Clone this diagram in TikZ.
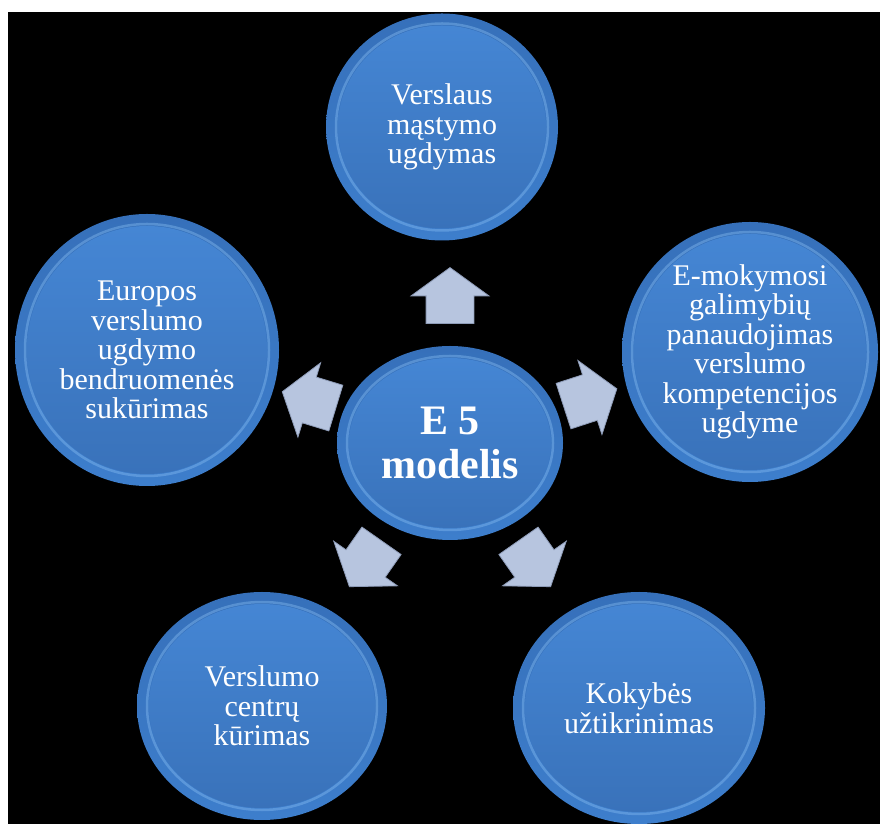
\documentclass[tikz,border=0pt]{standalone}
\usepackage{fontspec}
\setmainfont{Liberation Serif}
\usetikzlibrary{shapes.geometric,shapes.arrows,calc}
\definecolor{ringtop}{HTML}{3670BA}
\definecolor{ringbot}{HTML}{3D7ECC}
\definecolor{ringhi}{HTML}{8AC0F4}
\definecolor{bodytop}{HTML}{4586D4}
\definecolor{bodybot}{HTML}{3972BA}
\definecolor{arrowc}{HTML}{B7C5DF}
\definecolor{arrowedge}{HTML}{8E9CB8}
\tikzset{
  bubble/.style={ellipse, inner sep=0pt, align=center, text=white,
    top color=ringtop, bottom color=ringbot,
    font=\fontsize{30}{29.5}\selectfont,
    path picture={
      \draw[ringhi, line width=2.5pt, opacity=.4] let \p1=($(path picture bounding box.north east)-(path picture bounding box.center)$) in
        (path picture bounding box.center) ellipse [x radius=\x1-10pt, y radius=\y1-10pt];
      \shade[top color=bodytop, bottom color=bodybot] let \p1=($(path picture bounding box.north east)-(path picture bounding box.center)$) in
        (path picture bounding box.center) ellipse [x radius=\x1-12pt, y radius=\y1-12pt];
    }},
  pointer/.style={single arrow, single arrow head extend=15pt, single arrow tip angle=108,
    minimum height=56pt, inner xsep=0pt, inner ysep=23.5pt,
    fill=arrowc, draw=arrowedge, line width=.8pt},
}
\begin{document}
\begin{tikzpicture}[x=1pt,y=1pt]
      \useasboundingbox (0,0) rectangle (880,824);
      \fill[white] (0,0) rectangle (880,824);
      \fill[black] (8,0) rectangle (880,812);
      %centras
      \node[bubble, minimum width=226pt, minimum height=194pt, font=\fontsize{42}{44}\selectfont\bfseries] (ctr) at (450,381) {E 5\\modelis};
      %aplink
      \node[bubble, minimum width=232pt, minimum height=227pt] (verslaus) at (442,697) {Verslaus\\mąstymo\\ugdymas};
      \node[bubble, minimum width=256pt, minimum height=260pt] (emokym) at (750,472) {E-mokymosi\\galimybių\\panaudojimas\\verslumo\\kompetencijos\\ugdyme};
      \node[bubble, minimum width=252pt, minimum height=232pt] (kokybe) at (639,116) {Kokybės\\užtikrinimas};
      \node[bubble, minimum width=250pt, minimum height=228pt] (centru) at (262,118) {Verslumo\\centrų\\kūrimas};
      \node[bubble, minimum width=264pt, minimum height=272pt] (europos) at (147,474) {Europos\\verslumo\\ugdymo\\bendruomenės\\sukūrimas};
      %rodykles
      \foreach \a/\n in {90/up,18/ea,-55/se,-125/sw,163/we}
        \node[pointer, rotate=\a, anchor=tail] (arr-\n) at ($(ctr)+(\a:119)$) {};
    \end{tikzpicture}
\end{document}
